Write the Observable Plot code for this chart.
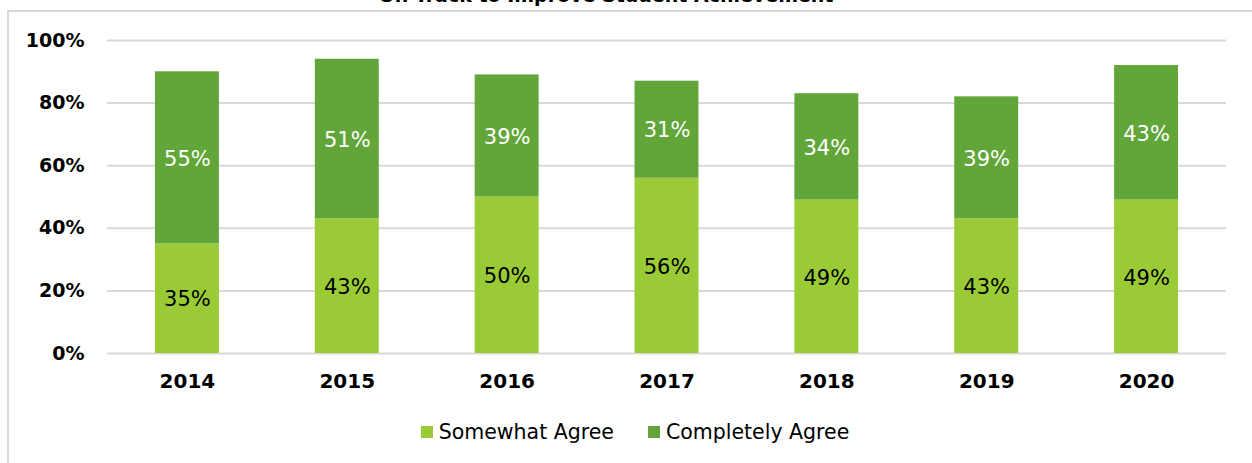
<!DOCTYPE html>
<html>
<head>
<meta charset="utf-8">
<script src="https://cdn.jsdelivr.net/npm/d3@7"></script>
<script src="https://cdn.jsdelivr.net/npm/@observablehq/plot@0.6"></script>
<style>
  html, body { margin: 0; padding: 0; background: #fff; }
  body { width: 1252px; height: 463px; position: relative; overflow: hidden; font-family: "DejaVu Sans", sans-serif; }
  #frame { position: absolute; left: 7px; top: 10px; width: 1245px; height: 460px; border-left: 2px solid #d9d9d9; border-top: 2px solid #d9d9d9; box-sizing: border-box; }
  #title { position: absolute; left: 0; width: 1212px; top: -16px; text-align: center; font-weight: bold; font-size: 19px; color: #000; }
  #chart { position: absolute; left: 0; top: 0; }
  #legend { position: absolute; top: 420px; left: 0; width: 1252px; display: flex; justify-content: center; gap: 34px; font-size: 20.5px; color: #000; padding-left: 18px; box-sizing: border-box; }
  .item { display: flex; align-items: center; gap: 6px; }
  .sw { width: 12px; height: 12px; display: inline-block; }
</style>
</head>
<body>
<div id="frame"></div>
<div id="title">On Track to Improve Student Achievement</div>
<div id="chart"></div>
<div id="legend"></div>
<script>
const years = ["2014", "2015", "2016", "2017", "2018", "2019", "2020"];
const seriesNames = ["Somewhat Agree", "Completely Agree"];
const somewhat = [35, 43, 50, 56, 49, 43, 49];
const completely = [55, 51, 39, 31, 34, 39, 43];
const yTicks = [0, 20, 40, 60, 80, 100];
const colors = ["#9acb36", "#62a63a"];
const labelColors = ["#000000", "#ffffff"];

const rows = [];
years.forEach((yr, i) => {
  rows.push({year: yr, series: seriesNames[0], value: somewhat[i]});
  rows.push({year: yr, series: seriesNames[1], value: completely[i]});
});

const plot = Plot.plot({
  width: 1252,
  height: 400,
  marginLeft: 107,
  marginRight: 26,
  marginTop: 40,
  marginBottom: 47,
  style: {fontFamily: "'DejaVu Sans', sans-serif", fontSize: "19px", color: "#000", background: "transparent"},
  x: {domain: years, paddingInner: 0.6, paddingOuter: 0.3, round: false, label: null},
  y: {domain: [0, 100], label: null},
  color: {domain: seriesNames, range: colors},
  marks: [
    Plot.gridY(yTicks, {stroke: "#d9d9d9", strokeOpacity: 1, strokeWidth: 2}),
    Plot.barY(rows, {x: "year", y: "value", fill: "series"}),
    Plot.text(rows, Plot.stackY({
      x: "year", y: "value", z: "series",
      text: d => d.value + "%",
      fill: d => labelColors[seriesNames.indexOf(d.series)],
      fontSize: 21,
      dy: 1
    })),
    Plot.axisY(yTicks, {tickSize: 0, tickPadding: 23, tickFormat: d => d + "%", fontWeight: "bold", fontSize: 19, label: null}),
    Plot.axisX({tickSize: 0, tickPadding: 20, fontWeight: "bold", fontSize: 20, label: null})
  ]
});
document.getElementById("chart").appendChild(plot);

const legend = document.getElementById("legend");
seriesNames.forEach((name, i) => {
  const item = document.createElement("div");
  item.className = "item";
  const sw = document.createElement("span");
  sw.className = "sw";
  sw.style.background = colors[i];
  const t = document.createElement("span");
  t.textContent = name;
  item.appendChild(sw);
  item.appendChild(t);
  legend.appendChild(item);
});
</script>
</body>
</html>
